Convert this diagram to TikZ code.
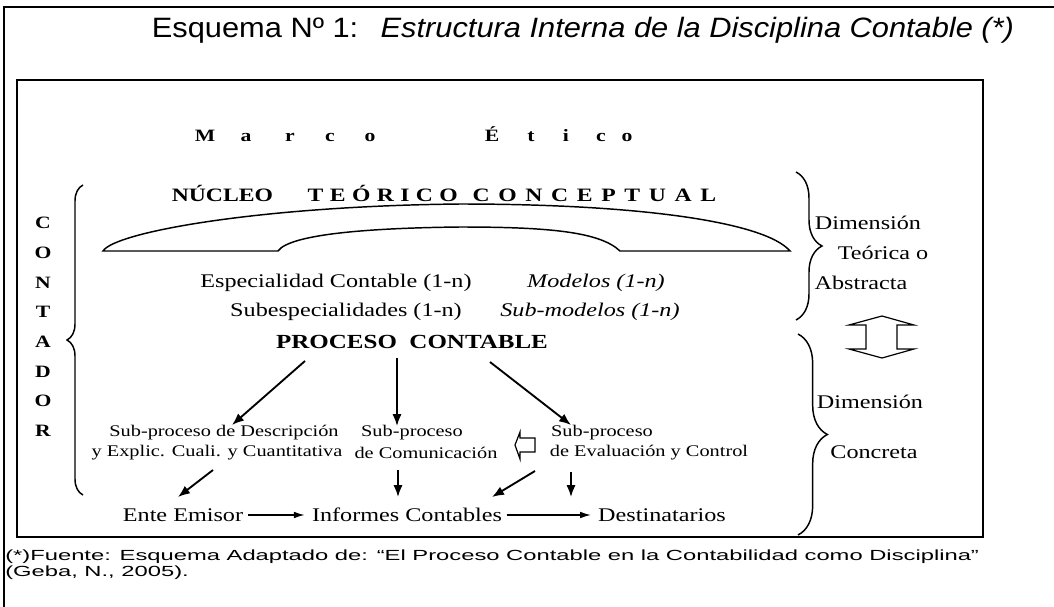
\documentclass[tikz,border=0pt]{standalone}
\usepackage{fontspec}
\setmainfont[FakeStretch=1.25]{Liberation Serif}
\newfontfamily\arialfont[FakeStretch=1.1]{Liberation Sans}
\newfontfamily\notefont[FakeStretch=1.62]{Liberation Sans}
\usepackage{tikz}
\usetikzlibrary{arrows.meta,calc,decorations.pathreplacing}

\begin{document}
\begin{tikzpicture}[x=0.75pt,y=-0.75pt,
	arr/.style={-{Latex[length=9pt,width=7pt]},line width=1.4pt},
	harr/.style={-{Latex[length=8pt,width=5pt]},line width=1pt,shorten >=2pt},
	txt/.style={font=\fontsize{14.5}{17}\selectfont},
	chico/.style={font=\fontsize{12.2}{14}\selectfont},
	grande/.style={font=\fontsize{15}{18}\selectfont\bfseries},
	letra/.style={font=\fontsize{13}{15}\selectfont\bfseries},
	llave/.style={decorate,decoration={brace,amplitude=#1},line width=1.1pt}]
	\useasboundingbox (0,0) rectangle (1054,607);
	%
	% frames
	\draw[line width=1.2pt] (4,607) -- (4,7) -- (1054,7);
	\draw[line width=1.1pt] (17,80) rectangle (983,537);
	\node[font=\arialfont\fontsize{21}{24}\selectfont] (titulo) at (583,30)
		{Esquema Nº 1:\hspace{0.8em}\textit{Estructura Interna de la Disciplina Contable (*)}};
	
	% marco etico
	\foreach \l/\px [count=\i] in {M/205,a/246,r/290,c/330,o/370,É/492,t/531,i/566,c/601,o/627}
	\node[letra,anchor=base] (etico\i) at (\px,141) {\l};
	% contador
	\foreach \l [count=\i] in {C,O,N,T,A,D,O,R}
	\node[letra] (cont\i) at (43,{223+29.7*(\i-1)}) {\l};
	
	% nucleo teorico
	\node[grande,font=\fontsize{14.2}{17}\selectfont\bfseries] (nucleo) at (444,193)
		{NÚCLEO\hspace{26pt}{\spaceskip=4.8pt T E Ó R I C O}\hspace{11pt}{\spaceskip=6.5pt C O N C E P T U A L}};
	\draw[line width=1.1pt] (103,251) .. controls (115,232) and (260,206) .. (460,204)
		.. controls (640,204) and (765,222) .. (790,251) -- (620,251)
		.. controls (600,232) and (550,227) .. (460,227)
		.. controls (370,228) and (290,234) .. (278,251) -- cycle;
	\node[txt] (espec) at (336,283) {Especialidad Contable (1-n)};
	\node[txt,font=\fontsize{14.5}{17}\selectfont\itshape] (modelos) at (596,283) {Modelos (1-n)};
	\node[txt] (subesp) at (346,312) {Subespecialidades (1-n)};
	\node[txt,font=\fontsize{14.5}{17}\selectfont\itshape] (submod) at (590,312) {Sub-modelos (1-n)};
	
	% proceso
	\node[grande] (proc) at (412,342) {PROCESO\ \ CONTABLE};
	\node[chico] (desc1) at (224,433) {Sub-proceso de Descripción};
	\node[chico] (desc2) at (217,453) {y Explic. Cuali. y Cuantitativa};
	\node[chico] (com1) at (412,433) {Sub-proceso};
	\node[chico] (com2) at (426,453) {de Comunicación};
	\node[chico] (eval1) at (602,433) {Sub-proceso};
	\node[chico] (eval2) at (649,453) {de Evaluación y Control};
	\node[txt] (emisor) at (183,515) {Ente Emisor};
	\node[txt] (informes) at (407,515) {Informes Contables};
	\node[txt] (destin) at (662,515) {Destinatarios};
	%
	\draw[arr] ($(proc)+(-107,19)$) -- ($(desc1)+(8,-8)$);
	\draw[arr] ($(proc)+(-15,16)$) -- ($(com1)+(-15,-7)$);
	\draw[arr] ($(proc)+(78,20)$) -- ($(eval1)+(-31,-8)$);
	\draw[arr] ($(desc2)+(-4,17)$) -- ($(emisor)+(-5,-18)$);
	\draw[arr] ($(com2)+(-28,17)$) -- ($(informes)+(-9,-18)$);
	\draw[arr] ($(eval2)+(-114,18)$) -- ($(informes)+(85,-18)$);
	\draw[arr] ($(eval2)+(-78,19)$) -- ($(destin)+(-91,-18)$);
	\draw[harr] (emisor.east) -- (informes.west);
	\draw[harr] (informes.east) -- (destin.west);
	% small block arrow
	\draw[line width=0.9pt] (515,445) -- (520,432) -- (520,438) -- (535,438)
		-- (535,452) -- (520,452) -- (520,459) -- cycle;
	
	% braces
	\draw[llave=12pt] (83,495) -- (83,185);
	\draw[llave=19.5pt] (796,172) -- (796,320);
	\draw[llave=22pt] (798,334) -- (798,535);
	\node[txt] (dim1) at (868,223) {Dimensión};
	\node[txt] (teor) at (883,253) {Teórica o};
	\node[txt] (abstr) at (861,283) {Abstracta};
	\node[txt] (dim2) at (870,402) {Dimensión};
	\node[txt] (concr) at (874,452) {Concreta};
	% up-down block arrow
	\draw[line width=0.9pt] (882,316) -- (914,325) -- (897,325) -- (897,349) -- (914,349)
		-- (882,358) -- (849,349) -- (866,349) -- (866,325) -- (849,325) -- cycle;
	
	% fuente
	\node[font=\notefont\fontsize{11}{13}\selectfont,anchor=west,inner sep=0pt] (nota1) at (5,557)
		{(*)Fuente: Esquema Adaptado de: “El Proceso Contable en la Contabilidad como Disciplina”};
	\node[font=\notefont\fontsize{11}{13}\selectfont,anchor=west,inner sep=0pt] (nota2) at (5,573)
		{(Geba, N., 2005).};
\end{tikzpicture}
\end{document}
